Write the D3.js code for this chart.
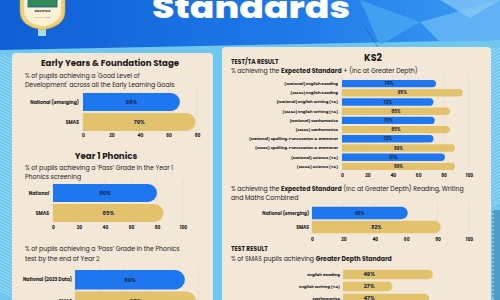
<!DOCTYPE html>
<html>
<head>
<meta charset="utf-8">
<script src="https://cdn.jsdelivr.net/npm/d3@7"></script>
<style>
  body { margin: 0; overflow: hidden; }
  svg { display: block; }
</style>
</head>
<body>
<svg id="chart" width="500" height="300"></svg>
<script>
// ---- data ----
var eyfsCats = ['National (emerging)', 'SMAS'];
var eyfsValues = [68, 79];
var eyfsTicks = [0, 20, 40, 60, 80];

var phonicsCats = ['National', 'SMAS'];
var phonicsValues = [80, 85];
var pctTicks = [0, 20, 40, 60, 80, 100];

var year2Cats = ['National (2023 Data)', 'SMAS'];
var year2Values = [89, 98];

var ks2Cats = [
    '(National) English Reading',
    '(SMAS) English Reading',
    '(National) English Writing (TA)',
    '(SMAS) English Writing (TA)',
    '(National) Mathematics',
    '(SMAS) Mathematics',
    '(National) Spelling, Punctuation & Grammar',
    '(SMAS) Spelling, Punctuation & Grammar',
    '(National) Science (TA)',
    '(SMAS) Science (TA)'
];
var ks2Values = [74, 95, 72, 85, 73, 85, 72, 89, 81, 89];

var rwmCats = ['National (emerging)', 'SMAS'];
var rwmValues = [61, 82];

var gdsCats = ['English Reading', 'English Writing (TA)', 'Mathematics'];
var gdsValues = [49, 27, 47];

// ---- style ----
var font = "Poppins, 'Open Sans', sans-serif",
    blue = '#1f77f0',
    gold = '#e3c26e',
    panelFill = '#f3e8d8',
    gridColor = '#e3d7c5',
    ink = '#1b1b1b',
    valueInk = '#1d2a4d';

var svg = d3.select('#chart');

// ---- background ----
var defs = svg.append('defs');
var hg = defs.append('linearGradient').attr('id', 'head').attr('x1', 0).attr('x2', 1);
hg.append('stop').attr('offset', 0).attr('stop-color', '#0f5fd4');
hg.append('stop').attr('offset', 0.6).attr('stop-color', '#1f7ae8');
hg.append('stop').attr('offset', 1).attr('stop-color', '#3b9cf2');

svg.append('rect').attr('width', 500).attr('height', 300).attr('fill', '#6fc7ef');
svg.append('path').attr('d', 'M0,0H500V40L0,50Z').attr('fill', 'url(#head)');
// lighter facets top right
svg.append('path').attr('d', 'M360,0L420,22L380,45Z').attr('fill', '#4aa6f2').attr('opacity', 0.8);
svg.append('path').attr('d', 'M420,22L500,0V40L440,42Z').attr('fill', '#6ab8f5').attr('opacity', 0.8);
svg.append('path').attr('d', 'M440,0L500,0L470,18Z').attr('fill', '#8ccaf7').attr('opacity', 0.7);
svg.append('line').attr('x1', 365).attr('y1', 27).attr('x2', 378).attr('y2', 47)
    .attr('stroke', '#2a4f7a').attr('stroke-width', 0.5);

// stripes at the left and right edges
defs.append('clipPath').attr('id', 'leftStrip').append('rect')
    .attr('x', 0).attr('y', 55).attr('width', 12).attr('height', 245);
defs.append('clipPath').attr('id', 'rightStrip').append('rect')
    .attr('x', 491).attr('y', 48).attr('width', 9).attr('height', 160);
svg.append('g').attr('clip-path', 'url(#leftStrip)')
    .selectAll('line').data(d3.range(60, 300, 3.2)).join('line')
    .attr('x1', 0).attr('y1', function(d) { return d - 6; })
    .attr('x2', 12).attr('y2', function(d) { return d; })
    .attr('stroke', '#ffffff').attr('stroke-width', 0.5).attr('opacity', 0.7);
svg.append('g').attr('clip-path', 'url(#rightStrip)')
    .selectAll('line').data(d3.range(50, 210, 3.2)).join('line')
    .attr('x1', 491).attr('y1', function(d) { return d; })
    .attr('x2', 500).attr('y2', function(d) { return d - 5; })
    .attr('stroke', '#ffffff').attr('stroke-width', 0.5).attr('opacity', 0.7);
svg.append('rect').attr('x', 492).attr('y', 210).attr('width', 10).attr('height', 90)
    .attr('rx', 4).attr('fill', '#4e9cc5');
svg.append('g').selectAll('circle').data(d3.range(214, 300, 4)).join('circle')
    .attr('cx', 493).attr('cy', function(d) { return d; }).attr('r', 1)
    .attr('fill', '#9fd0ea');

// ---- logo ----
var logo = svg.append('g');
logo.append('rect').attr('x', 38).attr('y', 22).attr('width', 8).attr('height', 14).attr('fill', '#a9d9f5');
logo.append('path').attr('d', 'M20,-2H65V12Q65,26 42.5,30Q20,26 20,12Z')
    .attr('fill', '#f0cf74').attr('stroke', '#c89a2e').attr('stroke-width', 0.6);
logo.append('path').attr('d', 'M24,-2H61V11Q61,23 42.5,26.5Q24,23 24,11Z').attr('fill', '#fbf1d6');
logo.append('rect').attr('x', 28).attr('y', -2).attr('width', 29).attr('height', 9)
    .attr('fill', '#2f8a57').attr('stroke', '#2050a8').attr('stroke-width', 0.8);
logo.append('text').attr('x', 42.5).attr('y', 11.5).attr('text-anchor', 'middle')
    .attr('font-family', font).attr('font-size', 2.6).attr('font-weight', 700).attr('fill', '#333')
    .text('BEACHFIELD');
logo.append('text').attr('x', 42.5).attr('y', 18).attr('text-anchor', 'middle')
    .attr('font-family', font).attr('font-size', 2).attr('fill', '#777')
    .text('PRAY  PLAY  WORK');

// ---- header title ----
svg.append('text')
    .attr('x', 251).attr('y', 18)
    .attr('text-anchor', 'middle')
    .attr('font-family', font).attr('font-weight', 800).attr('font-size', 30)
    .attr('textLength', 198).attr('lengthAdjust', 'spacingAndGlyphs')
    .attr('fill', '#ffffff')
    .text('Standards');

// ---- panels ----
svg.append('rect').attr('x', 12).attr('y', 53).attr('width', 201).attr('height', 260)
    .attr('rx', 4).attr('fill', panelFill);
svg.append('rect').attr('x', 222).attr('y', 47).attr('width', 269).attr('height', 270)
    .attr('rx', 4).attr('fill', panelFill);

// ---- text helpers ----
function title(x, y, size, str, anchor) {
    svg.append('text')
        .attr('x', x).attr('y', y)
        .attr('text-anchor', anchor || 'middle')
        .attr('font-family', font).attr('font-weight', 700).attr('font-size', size)
        .attr('fill', ink)
        .text(str);
}

// parts: [[text, bold], ...]
function line(x, y, parts) {
    var t = svg.append('text')
        .attr('x', x).attr('y', y)
        .attr('font-family', font).attr('font-size', 6.2)
        .attr('fill', ink);
    parts.forEach(function(p) {
        t.append('tspan').attr('font-weight', p[1] ? 700 : 400).text(p[0]);
    });
}

function isNational(c) {
    return /National/.test(c);
}

function roundBar(x0, y, x1, h) {
    var r = Math.min(h / 2, x1 - x0);
    return 'M' + x0 + ',' + y + 'H' + (x1 - r) +
        'A' + r + ',' + r + ' 0 0 1 ' + x1 + ',' + (y + r) +
        'V' + (y + h - r) +
        'A' + r + ',' + r + ' 0 0 1 ' + (x1 - r) + ',' + (y + h) +
        'H' + x0 + 'Z';
}

function barChart(cats, values, o) {
    var g = svg.append('g');

    var x = d3.scaleLinear().domain([0, o.max]).range([o.left, o.right]);
    var y = d3.scaleBand().domain(cats).range([o.top, o.bottom])
        .paddingInner(o.pad).paddingOuter(o.pad / 2);

    if (o.grid) {
        g.selectAll('.grid').data(o.grid).join('line')
            .attr('class', 'grid')
            .attr('x1', x).attr('x2', x)
            .attr('y1', o.top - 3).attr('y2', o.bottom)
            .attr('stroke', gridColor).attr('stroke-width', 0.6);
    }

    g.selectAll('.bar').data(cats).join('path')
        .attr('class', 'bar')
        .attr('d', function(c, i) {
            return roundBar(x(0), y(c), x(values[i]), y.bandwidth());
        })
        .attr('fill', function(c) {
            return o.allGold ? gold : (isNational(c) ? blue : gold);
        });

    g.selectAll('.cat').data(cats).join('text')
        .attr('class', 'cat')
        .attr('x', o.labelX)
        .attr('y', function(c) { return y(c) + y.bandwidth() / 2; })
        .attr('dy', '0.35em')
        .attr('text-anchor', 'end')
        .attr('font-family', font).attr('font-weight', 700).attr('font-size', o.labelSize)
        .attr('fill', ink)
        .text(function(c) { return c; });

    g.selectAll('.val').data(cats).join('text')
        .attr('class', 'val')
        .attr('x', function(c, i) {
            return o.valueX !== undefined ? o.valueX : (x(0) + x(values[i])) / 2;
        })
        .attr('y', function(c) { return y(c) + y.bandwidth() / 2; })
        .attr('dy', '0.35em')
        .attr('text-anchor', 'middle')
        .attr('font-family', font).attr('font-weight', 700).attr('font-size', o.valueSize)
        .attr('fill', valueInk)
        .text(function(c, i) { return values[i] + '%'; });

    if (o.ticks) {
        var ax = g.append('g')
            .attr('transform', 'translate(0,' + o.axisY + ')')
            .call(d3.axisBottom(x).tickValues(o.ticks).tickSize(0).tickPadding(0));
        ax.select('.domain').remove();
        ax.selectAll('text')
            .attr('y', 0).attr('dy', '0.35em')
            .attr('font-family', font).attr('font-weight', 700).attr('font-size', 4.4)
            .attr('fill', ink);
    }
}

// ---- left panel ----
title(110, 66, 8.6, 'Early Years & Foundation Stage');
line(25, 77.5, [["% of pupils achieving a 'Good Level of", false]]);
line(25, 86.5, [["Development' across all the Early Learning Goals", false]]);
barChart(eyfsCats, eyfsValues, {
    max: 80, left: 83, right: 197, top: 92, bottom: 132, pad: 0.1,
    grid: eyfsTicks, ticks: eyfsTicks, axisY: 135,
    labelX: 79, labelSize: 4.6, valueSize: 5.4
});

title(106, 158.5, 8.6, 'Year 1 Phonics');
line(25, 169.5, [["% of pupils achieving a \u2018Pass\u2019 Grade in the Year 1", false]]);
line(25, 179, [["Phonics screening", false]]);
barChart(phonicsCats, phonicsValues, {
    max: 100, left: 53, right: 183, top: 183, bottom: 223, pad: 0.1,
    grid: pctTicks, ticks: pctTicks, axisY: 227,
    labelX: 49, labelSize: 4.6, valueSize: 5.4
});

line(25, 250.5, [["% of pupils achieving a \u2018Pass\u2019 Grade in the Phonics", false]]);
line(25, 260.5, [["test by the end of Year 2", false]]);
barChart(year2Cats, year2Values, {
    max: 100, left: 75, right: 198.5, top: 269, bottom: 312, pad: 0.1,
    grid: pctTicks, ticks: null,
    labelX: 72, labelSize: 4.6, valueSize: 5.4
});

// ---- right panel ----
title(373, 60.5, 9.5, 'KS2');
title(231, 64, 6, 'TEST/TA RESULT', 'start');
line(231, 73, [['% achieving the ', false], ['Expected Standard', true], [' + (inc at Greater Depth)', false]]);
barChart(ks2Cats, ks2Values, {
    max: 100, left: 342, right: 469, top: 79, bottom: 171, pad: 0.2,
    grid: pctTicks, ticks: pctTicks, axisY: 175,
    labelX: 338, labelSize: 3.9, valueSize: 4.3
});

line(231, 191, [['% achieving the ', false], ['Expected Standard', true], [' (inc at Greater Depth) Reading, Writing', false]]);
line(231, 199.5, [['and Maths Combined', false]]);
barChart(rwmCats, rwmValues, {
    max: 100, left: 312, right: 469, top: 206, bottom: 234, pad: 0.12,
    grid: pctTicks, ticks: pctTicks, axisY: 239,
    labelX: 309, labelSize: 4.4, valueSize: 5
});

title(231, 251, 6, 'TEST RESULT', 'start');
line(231, 260.5, [['% of SMAS pupils achieving ', false], ['Greater Depth Standard', true]]);
barChart(gdsCats, gdsValues, {
    max: 60, left: 343, right: 453, top: 268.5, bottom: 304.5, pad: 0.22,
    grid: null, ticks: null, allGold: true, valueX: 369,
    labelX: 340, labelSize: 4, valueSize: 5.4
});
</script>
</body>
</html>
